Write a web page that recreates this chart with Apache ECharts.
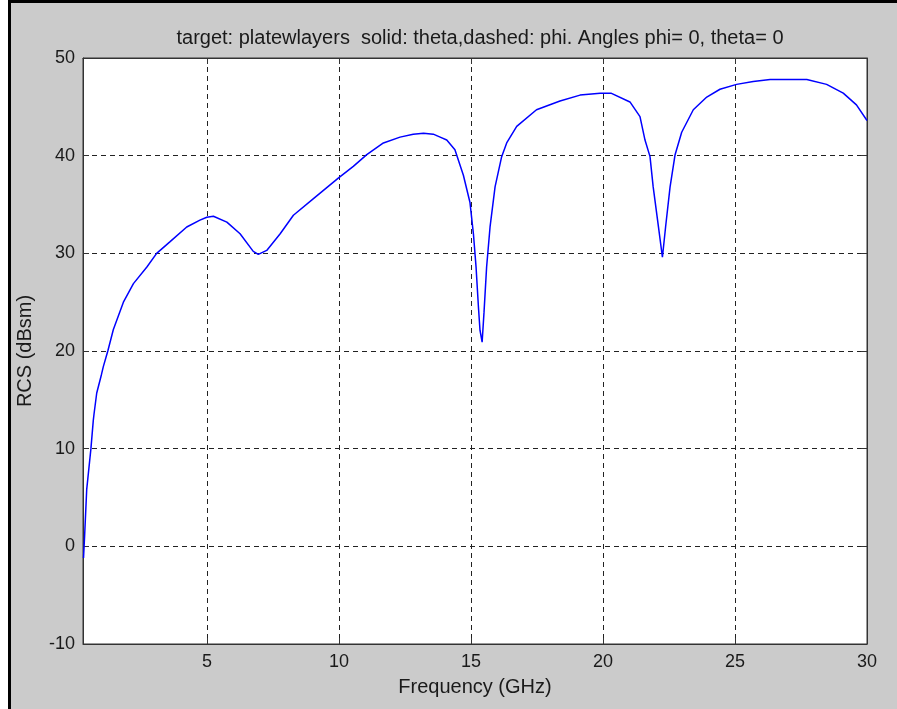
<!DOCTYPE html>
<html>
<head>
<meta charset="utf-8">
<script src="https://cdn.jsdelivr.net/npm/echarts@6/dist/echarts.min.js"></script>
<style>
html,body{margin:0;padding:0;background:#ffffff;}
#chart{width:897px;height:709px;}
</style>
</head>
<body>
<div id="chart"></div>
<script>
// ---- data ----
var freqGHz = [0.32,0.36,0.44,0.6,0.69,0.72,0.82,1.0,1.07,1.24,1.45,1.83,2.21,2.72,3.09,3.6,4.23,4.73,4.99,5.24,5.75,6.25,6.75,6.94,7.26,7.77,8.27,9.03,9.97,10.54,11.05,11.68,12.31,12.81,13.2,13.57,13.83,14.08,14.39,14.71,14.96,15.09,15.19,15.28,15.34,15.42,15.49,15.59,15.72,15.91,16.16,16.35,16.73,17.48,18.37,19.13,19.89,20.3,21.02,21.4,21.59,21.78,21.9,22.1,22.25,22.37,22.54,22.73,22.98,23.42,23.93,24.43,25.06,25.69,26.33,27.72,28.47,29.1,29.6,30.0];
var rcsTheta = [-1.2,1.0,5.8,10.0,12.9,13.6,15.7,17.6,18.4,20.0,22.2,25.0,26.9,28.6,30.0,31.2,32.7,33.4,33.7,33.8,33.2,32.0,30.2,29.9,30.3,32.0,33.9,35.6,37.7,38.9,40.1,41.3,41.9,42.2,42.3,42.2,41.9,41.6,40.6,38.0,35.2,32.0,28.6,24.5,22.1,20.9,23.9,28.6,32.7,36.8,39.9,41.3,43.0,44.7,45.6,46.2,46.4,46.4,45.5,44.0,41.6,39.9,36.8,32.7,29.6,32.7,36.8,40.1,42.4,44.7,46.0,46.8,47.3,47.6,47.8,47.8,47.3,46.4,45.2,43.6];
var xTicks = [5,10,15,20,25,30];
var yTicks = [-10,0,10,20,30,40,50];
var titleText = 'target: platewlayers  solid: theta,dashed: phi. Angles phi= 0, theta= 0';
var xName = 'Frequency (GHz)';
var yName = 'RCS (dBsm)';

var seriesData = freqGHz.map(function(f,i){return [f, rcsTheta[i]];});

var FONT = '"Liberation Sans", Arial, sans-serif';
var TXT = '#1a1a1a';
var chart = echarts.init(document.getElementById('chart'), null, {renderer:'canvas'});
var gridLine = {show:true, lineStyle:{color:'#222', width:1, type:[5,4]}};
chart.setOption({
  animation:false,
  backgroundColor:'#cbcbcb',
  title:{
    text:titleText, left:475, top:23, textAlign:'center',
    textStyle:{fontFamily:FONT, fontSize:20, fontWeight:'normal', color:TXT}
  },
  grid:{left:83, top:58, width:784, height:586, show:true, backgroundColor:'#ffffff', borderColor:'#333', borderWidth:1, containLabel:false},
  xAxis:[{
    type:'value', min:0.3, max:30, position:'bottom',
    name:xName, nameLocation:'middle', nameGap:33,
    nameTextStyle:{fontFamily:FONT, fontSize:20, color:TXT},
    axisLine:{show:true, onZero:false, lineStyle:{color:'#333', width:1}},
    axisTick:{show:true, inside:true, length:6, customValues:xTicks, lineStyle:{color:'#333'}},
    axisLabel:{show:true, customValues:xTicks, margin:9, fontFamily:FONT, fontSize:18, color:TXT},
    splitLine:gridLine
  },{
    type:'value', min:0.3, max:30, position:'top',
    axisLine:{show:true, onZero:false, lineStyle:{color:'#333', width:1}},
    axisTick:{show:true, inside:true, length:6, customValues:xTicks, lineStyle:{color:'#333'}},
    axisLabel:{show:false}, splitLine:{show:false}
  }],
  yAxis:[{
    type:'value', min:-10, max:50, interval:10, position:'left',
    name:yName, nameLocation:'middle', nameGap:48, nameRotate:90,
    nameTextStyle:{fontFamily:FONT, fontSize:20, color:TXT},
    axisLine:{show:true, onZero:false, lineStyle:{color:'#333', width:1}},
    axisTick:{show:true, inside:true, length:6, lineStyle:{color:'#333'}},
    axisLabel:{show:true, margin:8, fontFamily:FONT, fontSize:18, color:TXT},
    splitLine:gridLine
  },{
    type:'value', min:-10, max:50, interval:10, position:'right',
    axisLine:{show:true, onZero:false, lineStyle:{color:'#333', width:1}},
    axisTick:{show:true, inside:true, length:6, lineStyle:{color:'#333'}},
    axisLabel:{show:false}, splitLine:{show:false}
  }],
  graphic:[
    {type:'rect', shape:{x:0,y:0,width:8,height:709}, style:{fill:'#ffffff'}, z:100},
    {type:'rect', shape:{x:8,y:0,width:3,height:709}, style:{fill:'#000000'}, z:100},
    {type:'rect', shape:{x:8,y:0,width:889,height:3}, style:{fill:'#000000'}, z:100}
  ],
  series:[{
    type:'line', xAxisIndex:0, yAxisIndex:0, data:seriesData,
    showSymbol:false, symbol:'none', clip:true,
    lineStyle:{color:'#0000ff', width:1.5}
  }]
});
</script>
</body>
</html>
